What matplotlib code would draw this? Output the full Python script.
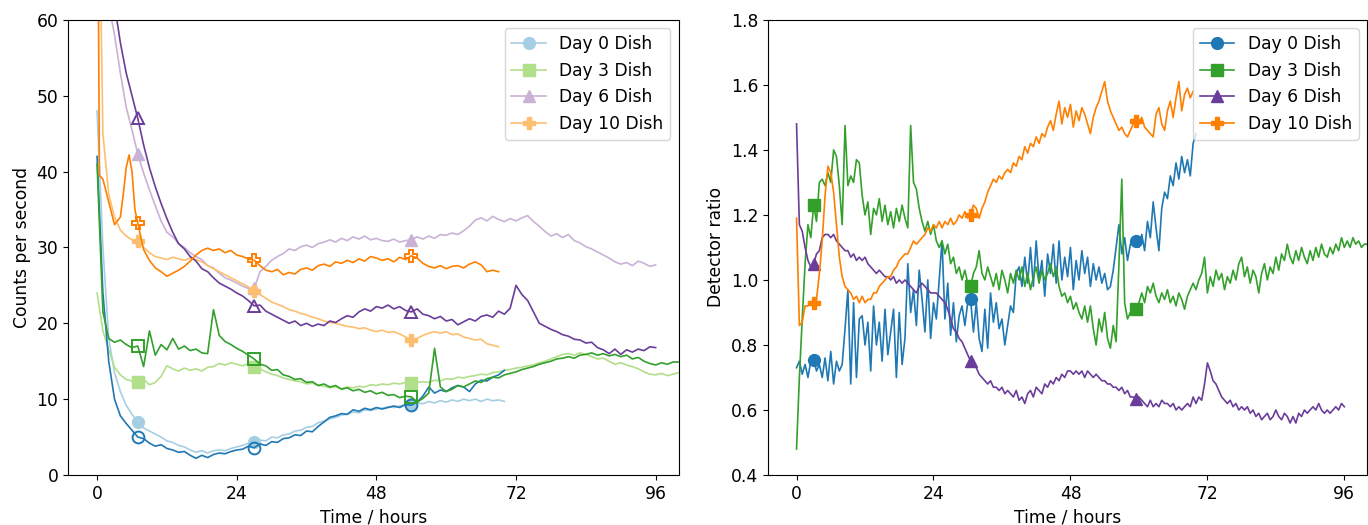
import numpy as np
import matplotlib
matplotlib.use("Agg")
import matplotlib.pyplot as plt

plt.rcParams['font.family'] = ['DejaVu Sans']

# ---------------- data: left panel (counts per second), hourly grid ----------------
labels = ["Day 0 Dish", "Day 3 Dish", "Day 6 Dish", "Day 10 Dish"]
marker_styles = ["o", "s", "^", "P"]
light_colors = ["#a6cee3", "#b2df8a", "#cab2d6", "#fdbf6f"]
dark_colors = ["#1f78b4", "#33a02c", "#6a3d9a", "#ff7f00"]
marker_hours_L = [7, 27, 54]
marker_hours_R = [3, 30.5, 59.5]

d0_light = [48, 30, 18, 13.5, 11, 9.2, 8, 7.0, 6.2, 5.8, 5.4, 5.0, 4.5, 4.3, 3.9, 3.7, 3.3, 3.0, 3.2, 2.9,
            3.2, 3.3, 3.2, 3.5, 3.7, 3.9, 4.2, 4.4, 4.6, 4.5, 5.0, 4.9, 5.3, 5.4, 5.8, 5.9, 6.3, 6.4, 6.9, 7.1,
            7.4, 7.6, 7.9, 8.0, 8.3, 8.2, 8.6, 8.5, 8.7, 8.8, 9.0, 8.9, 9.1, 9.2, 9.3, 9.5, 9.4, 9.7, 9.5, 9.8,
            9.6, 9.9, 9.7, 10.0, 9.8, 10.0, 9.7, 10.0, 9.8, 9.9, 9.7]
d0_dark = [42, 24, 15, 10, 7.8, 6.8, 5.9, 5.0, 4.8, 4.2, 3.8, 4.0, 3.5, 3.3, 3.0, 3.1, 2.6, 2.2, 2.6, 2.3,
           2.7, 2.9, 2.8, 3.1, 3.3, 3.4, 3.8, 3.6, 4.1, 3.9, 4.4, 4.3, 4.8, 4.9, 5.3, 5.2, 5.8, 5.7, 6.4, 7.0,
           7.6, 7.8, 8.1, 8.0, 8.6, 8.4, 8.8, 8.6, 8.9, 8.7, 8.9, 9.1, 8.9, 9.3, 9.2, 9.6, 10.4, 11.6, 10.8, 11.2,
           11.0, 11.5, 11.8, 11.6, 11.0, 12.0, 12.5, 12.4, 12.9, 13.2, 13.8]
d3_light = [24, 19, 16.5, 14.2, 13.2, 12.6, 12.4, 12.3, 12.6, 11.9, 12.2, 13.0, 14.4, 14.0, 13.7, 14.1, 13.8, 14.0, 13.7, 14.2,
            14.3, 14.7, 14.5, 14.8, 14.6, 14.4, 14.7, 14.2, 14.0, 13.6, 13.3, 13.1, 12.8, 12.6, 12.4, 12.3, 12.0, 12.1, 11.8, 11.7,
            11.5, 11.6, 11.4, 11.6, 11.5, 11.7, 11.6, 11.9, 11.8, 12.0, 11.9, 12.1, 12.0, 12.2, 12.1, 12.2, 12.3, 12.2, 12.5, 12.4,
            12.7, 12.6, 12.9, 12.8, 13.0, 13.1, 13.3, 13.2, 13.5, 13.6, 13.8, 13.9, 14.1, 14.2, 14.4, 14.5, 14.8, 15.0, 15.3, 15.6,
            15.9, 16.0, 15.8, 16.1, 15.9, 15.6, 15.3, 15.4, 15.0, 14.6, 14.8, 14.5, 14.3, 14.0, 13.6, 13.3, 13.2, 13.4, 13.1, 13.3,
            13.5]
d3_dark = [41, 21.5, 18, 17.5, 17.8, 17.2, 16.8, 17.0, 14.3, 19.0, 15.8, 17.2, 16.5, 18.0, 16.6, 17.0, 16.4, 16.6, 16.1, 16.0,
           21.8, 18.4, 17.6, 17.2, 16.7, 16.3, 15.8, 15.3, 14.6, 14.4, 13.8, 13.9, 13.2, 13.0, 12.6, 12.7, 12.2, 12.3, 11.8, 12.0,
           11.6, 11.8, 11.3, 11.5, 11.1, 11.3, 10.9, 11.1, 10.7, 10.9, 10.5, 10.6, 10.2, 10.4, 10.3, 9.6, 10.1, 10.8, 16.7, 11.6,
           11.0, 11.3, 11.8, 11.6, 12.0, 12.4, 12.2, 12.7, 12.9, 12.8, 13.2, 13.4, 13.6, 13.9, 14.1, 14.3, 14.6, 14.8, 15.0, 15.3,
           15.4, 15.6, 15.4, 15.8, 15.9, 16.1, 15.8, 16.0, 15.7, 15.9, 15.6, 15.8, 15.3, 15.5, 15.0, 14.7, 14.5, 14.8, 14.6, 14.9,
           14.9]
d6_light = [75, 68, 62, 58, 53, 48.5, 45.5, 42.3, 39.8, 37.6, 35.5, 33.5, 32.0, 31.4, 30.5, 30.0, 29.3, 28.8, 28.4, 27.6,
            27.3, 26.6, 26.0, 25.7, 25.3, 24.9, 24.6, 24.6, 26.8, 27.5, 28.3, 28.8, 29.2, 29.8, 29.6, 30.1, 30.3, 30.0, 30.5, 30.7,
            31.0, 30.7, 31.2, 30.9, 31.4, 31.1, 31.5, 31.0, 31.2, 30.9, 30.8, 31.1, 30.7, 30.9, 31.0, 31.4, 31.1, 31.5, 31.2, 31.7,
            31.6, 31.9, 31.7, 32.2, 32.8, 33.6, 33.9, 33.5, 34.1, 33.7, 33.4, 33.8, 33.5, 33.9, 34.2, 33.4, 32.8, 32.1, 31.5, 31.8,
            31.3, 31.7, 30.9, 30.6, 30.1, 29.8, 29.4, 29.0, 28.6, 28.1, 27.8, 28.0, 27.6, 28.2, 27.9, 27.5, 27.7]
d6_dark = [80, 75, 68, 62, 57, 53, 50, 47, 43.5, 40.5, 38, 35.8, 33.8, 32, 30.5, 29.8, 28.8, 28.2, 27.2, 26.8,
           26.0, 25.3, 24.9, 24.5, 24.0, 23.6, 23.0, 22.3, 22.4, 21.6, 21.2, 20.8, 20.4, 20.0, 20.3, 19.7, 20.0, 19.6, 19.9, 19.7,
           20.3, 20.1, 20.6, 21.0, 20.8, 21.5, 21.9, 21.6, 22.2, 22.0, 22.4, 21.9, 22.2, 21.7, 21.5, 21.9, 21.2, 21.0, 20.6, 20.9,
           20.3, 20.5, 19.8, 20.2, 20.6, 20.3, 20.9, 21.1, 20.8, 21.6, 21.2, 22.0, 25.0, 23.8, 23.0, 21.5, 20.0, 19.6, 19.2, 18.9,
           18.5, 18.3, 17.9, 17.8, 17.4, 17.5, 16.8, 16.5, 16.0, 16.6, 15.9, 16.5, 16.2, 16.6, 16.4, 16.9, 16.8]
d10_light = [95, 45, 37, 34, 32.3, 31.5, 31.0, 30.8, 30.0, 29.3, 28.8, 28.6, 28.4, 28.7, 28.5, 28.3, 28.6, 28.4, 28.1, 27.6,
             27.2, 26.8, 26.4, 26.0, 25.6, 25.2, 24.8, 24.3, 23.8, 23.3, 22.8, 22.5, 22.2, 21.8, 21.6, 21.3, 21.1, 20.8, 20.6, 20.3,
             20.1, 20.0, 19.8, 19.6, 19.5, 19.3, 19.4, 19.1, 18.9, 19.1, 18.8, 18.9, 18.6, 18.2, 17.8, 18.0, 18.4, 18.7, 18.9, 18.7,
             18.9, 18.5, 18.6, 18.2, 18.0, 17.8, 17.9, 17.3, 17.1, 16.9]
d10_dark_hours = [0, 0.4, 1, 2, 3, 4, 4.5, 5, 5.5, 6, 6.5, 7] + list(range(8, 70))
d10_dark = [95, 39.5, 39, 36, 33, 34, 37, 40.5, 42.2, 40, 35, 33.2,
            29.7, 28.3, 27.3, 26.8, 26.2, 26.6, 27.0, 27.5, 28.2, 29.0, 29.6, 29.9, 29.6, 29.8, 29.3, 29.6, 29.0, 28.8,
            28.5, 28.3, 27.6, 27.0, 26.8, 27.1, 26.4, 26.7, 26.5, 27.1, 27.3, 27.0, 27.6, 27.8, 27.5, 28.1, 27.9, 28.3,
            28.0, 28.5, 28.2, 28.8, 28.6, 28.3, 28.5, 28.1, 28.7, 28.4, 28.9, 28.6, 27.9, 27.5, 27.3, 27.6, 27.2, 27.5,
            27.6, 27.3, 27.8, 28.1, 27.7, 26.8, 27.0, 26.8]

# ---------------- data: right panel (detector ratio), half-hour grid ----------------
r0 = [0.73, 0.75, 0.71, 0.74, 0.70, 0.75, 0.755, 0.72, 0.74, 0.70, 0.76, 0.69, 0.78, 0.68, 0.75, 0.72, 0.74, 0.85, 0.97, 0.68,
      0.93, 0.70, 0.88, 0.89, 0.80, 0.87, 0.72, 0.92, 0.80, 0.87, 0.75, 0.91, 0.77, 0.84, 0.91, 0.70, 0.90, 0.74, 0.82, 1.05,
      0.90, 0.97, 0.86, 1.03, 0.94, 0.84, 1.00, 0.82, 0.93, 0.88, 1.00, 1.12, 0.88, 0.99, 0.83, 0.93, 0.81, 0.89, 0.92, 0.86,
      0.93, 0.94, 0.84, 0.93, 0.82, 0.78, 0.91, 0.79, 0.96, 0.87, 0.93, 0.85, 0.88, 0.80, 0.86, 0.92, 0.90, 1.02, 1.04, 0.98,
      1.07, 0.99, 1.10, 0.98, 1.12, 1.00, 1.06, 0.95, 1.08, 1.02, 1.11, 0.99, 1.12, 1.00, 1.07, 1.01, 1.10, 0.97, 1.06, 1.00,
      1.09, 1.02, 1.07, 0.98, 1.05, 1.00, 1.04, 0.99, 1.02, 0.97, 0.98, 1.03, 1.10, 1.17, 1.08, 1.13, 1.06, 1.11, 1.12, 1.12,
      1.10, 1.14, 1.09, 1.18, 1.13, 1.24, 1.16, 1.09, 1.22, 1.27, 1.25, 1.32, 1.29, 1.36, 1.31, 1.38, 1.33, 1.37, 1.32, 1.42,
      1.45]
r3 = [0.48, 0.70, 0.88, 1.05, 1.17, 1.13, 1.23, 1.18, 1.30, 1.31, 1.29, 1.33, 1.30, 1.40, 1.38, 1.29, 1.17, 1.475, 1.29, 1.32,
      1.30, 1.37, 1.36, 1.26, 1.20, 1.24, 1.14, 1.22, 1.20, 1.25, 1.18, 1.23, 1.17, 1.21, 1.16, 1.22, 1.18, 1.23, 1.19, 1.16,
      1.475, 1.30, 1.28, 1.22, 1.18, 1.15, 1.18, 1.14, 1.17, 1.12, 1.10, 1.12, 1.08, 1.11, 1.05, 1.07, 1.02, 1.04, 1.00, 1.03,
      0.99, 0.98, 1.02, 1.04, 1.09, 1.02, 1.00, 1.04, 1.01, 0.98, 1.02, 0.97, 1.03, 1.00, 0.96, 1.02, 0.99, 1.03, 1.00, 1.04,
      0.98, 1.02, 0.97, 1.01, 1.04, 0.99, 1.03, 1.00, 1.02, 1.05, 1.01, 1.04, 0.98, 0.95, 0.96, 0.93, 0.95, 0.91, 0.93, 0.90,
      0.88, 0.92, 0.87, 0.92, 0.85, 0.80, 0.88, 0.84, 0.90, 0.82, 0.79, 0.86, 0.81, 1.05, 1.31, 0.93, 0.88, 0.90, 0.91, 0.91,
      0.93, 0.96, 0.93, 0.98, 0.96, 0.99, 0.95, 0.93, 0.96, 0.94, 0.97, 0.93, 0.95, 0.92, 0.96, 0.94, 0.91, 0.95, 0.97, 0.99,
      0.97, 1.00, 1.02, 1.07, 0.96, 1.01, 0.98, 1.03, 1.00, 1.02, 0.97, 1.01, 0.99, 1.03, 1.00, 1.05, 1.07, 1.01, 1.04, 0.99,
      1.03, 1.01, 0.96, 1.02, 1.05, 1.00, 1.04, 1.02, 1.07, 1.03, 1.08, 1.06, 1.11, 1.07, 1.05, 1.09, 1.06, 1.10, 1.07, 1.05,
      1.09, 1.06, 1.10, 1.07, 1.11, 1.08, 1.07, 1.10, 1.08, 1.11, 1.09, 1.13, 1.10, 1.12, 1.10, 1.13, 1.11, 1.12, 1.10, 1.11,
      1.11]
r6 = [1.48, 1.17, 1.15, 1.10, 1.06, 1.04, 1.05, 1.08, 1.09, 1.13, 1.14, 1.14, 1.13, 1.14, 1.12, 1.11, 1.10, 1.09, 1.09, 1.07,
      1.08, 1.06, 1.07, 1.06, 1.07, 1.05, 1.04, 1.03, 1.02, 1.03, 1.02, 1.01, 1.01, 1.00, 1.01, 0.99, 1.00, 0.99, 1.00, 0.99,
      0.98, 0.97, 0.96, 0.98, 0.99, 0.98, 0.97, 0.96, 0.96, 0.96, 0.95, 0.94, 0.93, 0.91, 0.88, 0.85, 0.84, 0.82, 0.81, 0.79,
      0.77, 0.75, 0.74, 0.73, 0.71, 0.70, 0.69, 0.68, 0.69, 0.67, 0.67, 0.66, 0.67, 0.65, 0.66, 0.65, 0.64, 0.66, 0.63, 0.64,
      0.62, 0.65, 0.66, 0.64, 0.67, 0.66, 0.65, 0.68, 0.67, 0.69, 0.68, 0.70, 0.69, 0.71, 0.70, 0.72, 0.72, 0.71, 0.72, 0.71,
      0.72, 0.70, 0.72, 0.71, 0.70, 0.71, 0.70, 0.69, 0.69, 0.68, 0.68, 0.67, 0.67, 0.66, 0.67, 0.65, 0.66, 0.64, 0.64, 0.635,
      0.64, 0.63, 0.62, 0.61, 0.63, 0.61, 0.62, 0.61, 0.63, 0.62, 0.62, 0.61, 0.62, 0.60, 0.61, 0.60, 0.61, 0.62, 0.61, 0.64,
      0.62, 0.64, 0.63, 0.68, 0.745, 0.72, 0.69, 0.68, 0.66, 0.64, 0.63, 0.62, 0.63, 0.61, 0.62, 0.60, 0.61, 0.60, 0.61, 0.59,
      0.60, 0.58, 0.59, 0.57, 0.58, 0.59, 0.57, 0.58, 0.60, 0.58, 0.57, 0.59, 0.58, 0.56, 0.58, 0.56, 0.59, 0.58, 0.60, 0.59,
      0.60, 0.61, 0.60, 0.62, 0.60, 0.59, 0.60, 0.59, 0.60, 0.61, 0.60, 0.62, 0.61]
r10 = [1.19, 0.86, 0.87, 0.92, 0.92, 0.93, 0.93, 0.94, 1.02, 1.12, 1.26, 1.35, 1.33, 1.27, 1.17, 1.07, 1.01, 0.98, 0.97, 0.96,
       0.94, 0.95, 0.93, 0.95, 0.93, 0.94, 0.94, 0.96, 0.96, 0.98, 0.99, 1.00, 1.01, 1.01, 1.03, 1.04, 1.06, 1.07, 1.08, 1.08,
       1.10, 1.12, 1.11, 1.12, 1.13, 1.14, 1.16, 1.15, 1.17, 1.16, 1.18, 1.16, 1.18, 1.17, 1.19, 1.17, 1.18, 1.20, 1.19, 1.21,
       1.19, 1.20, 1.23, 1.22, 1.19, 1.22, 1.24, 1.27, 1.29, 1.31, 1.30, 1.32, 1.31, 1.33, 1.34, 1.33, 1.36, 1.35, 1.38, 1.37,
       1.41, 1.39, 1.42, 1.41, 1.44, 1.42, 1.45, 1.44, 1.47, 1.49, 1.46, 1.51, 1.55, 1.48, 1.53, 1.50, 1.54, 1.47, 1.52, 1.49,
       1.53, 1.51, 1.48, 1.45, 1.50, 1.53, 1.55, 1.58, 1.61, 1.55, 1.52, 1.50, 1.48, 1.46, 1.47, 1.45, 1.44, 1.46, 1.48, 1.49,
       1.48, 1.50, 1.47, 1.46, 1.45, 1.44, 1.51, 1.53, 1.48, 1.46, 1.52, 1.55, 1.50, 1.56, 1.61, 1.52, 1.57, 1.59, 1.56, 1.58]

left_light = [d0_light, d3_light, d6_light, d10_light]
left_dark = [d0_dark, d3_dark, d6_dark, d10_dark]
right_series = [r0, r3, r6, r10]


def hours_for(values, step=1.0):
    return np.arange(len(values)) * step


def mark_idx(hours, marks):
    hours = np.asarray(hours, dtype=float)
    return [int(np.argmin(np.abs(hours - m))) for m in marks]


fig = plt.figure(figsize=(13.68, 5.25), dpi=100)
axL = fig.add_axes([0.0497, 0.0952, 0.4466, 0.867])
axR = fig.add_axes([0.5614, 0.0952, 0.4380, 0.867])

FS = 12.3
lw = 1.2
ms = 8.5

for i in range(4):
    y = left_light[i]
    h = hours_for(y)
    axL.plot(h, y, color=light_colors[i], lw=lw, marker=marker_styles[i], ms=ms,
             markevery=mark_idx(h, marker_hours_L), label=labels[i])
for i in range(4):
    y = left_dark[i]
    h = d10_dark_hours if i == 3 else hours_for(y)
    axL.plot(h, y, color=dark_colors[i], lw=lw, marker=marker_styles[i], ms=ms,
             mfc='none', mew=1.4, markevery=mark_idx(h, marker_hours_L))

axL.set_xlim(-5, 100)
axL.set_ylim(0, 60)
axL.set_xticks([0, 24, 48, 72, 96])
axL.set_yticks(range(0, 61, 10))
axL.set_xlabel("Time / hours", fontsize=FS)
axL.set_ylabel("Counts per second", fontsize=FS)
axL.tick_params(labelsize=FS)
axL.legend(loc='upper right', fontsize=FS)

for i in range(4):
    y = right_series[i]
    h = hours_for(y, 0.5)
    axR.plot(h, y, color=dark_colors[i], lw=lw, marker=marker_styles[i], ms=ms,
             markevery=mark_idx(h, marker_hours_R), label=labels[i])

axR.set_xlim(-5, 100)
axR.set_ylim(0.4, 1.8)
axR.set_xticks([0, 24, 48, 72, 96])
axR.set_yticks(np.round(np.arange(0.4, 1.81, 0.2), 1))
axR.set_xlabel("Time / hours", fontsize=FS)
axR.set_ylabel("Detector ratio", fontsize=FS)
axR.tick_params(labelsize=FS)
axR.legend(loc='upper right', fontsize=FS)

fig.savefig("out.png", dpi=100)
